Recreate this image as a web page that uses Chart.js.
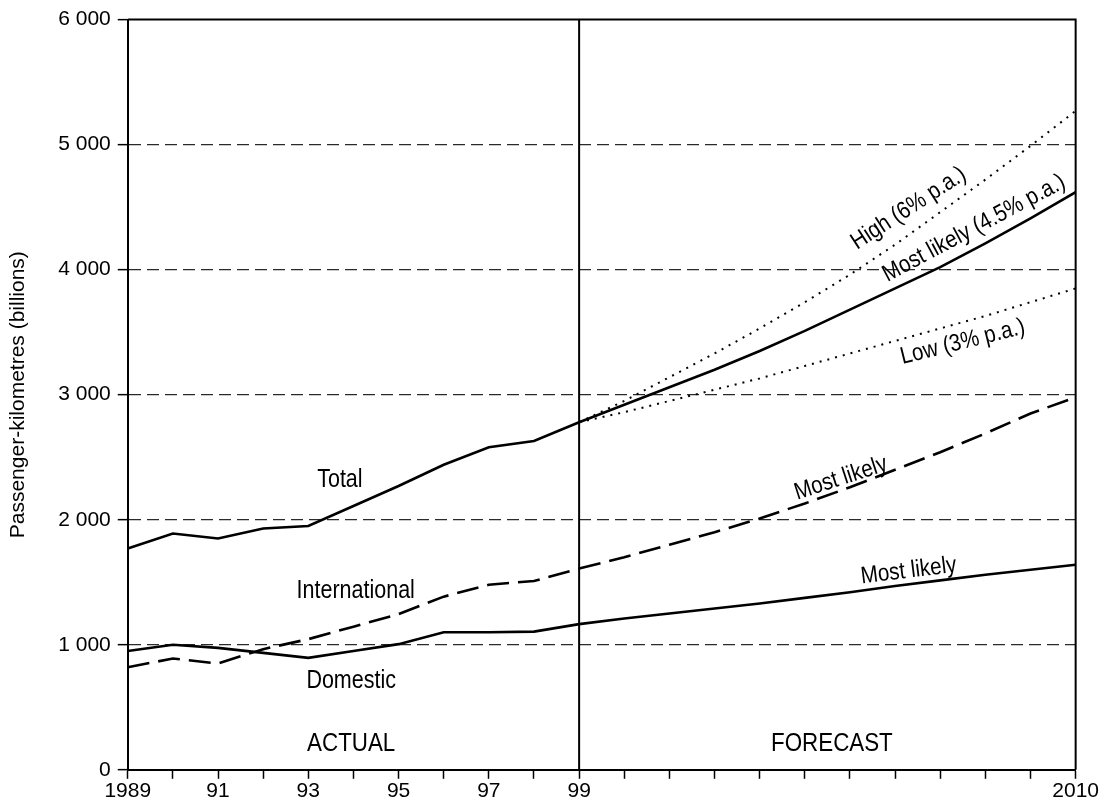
<!DOCTYPE html>
<html>
<head>
<meta charset="utf-8">
<title>Passenger-kilometres: actual and forecast</title>
<script src="https://cdn.jsdelivr.net/npm/chart.js@4.4.0/dist/chart.umd.min.js"></script>
<style>
    body { margin: 0; background: #fff; }
</style>
</head>
<body>
<canvas id="myChart" width="1099" height="809"></canvas>

<script>
// years
const ACTUAL_YEARS   = [1989, 1990, 1991, 1992, 1993, 1994, 1995, 1996, 1997, 1998, 1999];
const FORECAST_YEARS = [1999, 2000, 2001, 2002, 2003, 2004, 2005, 2006, 2007, 2008, 2009, 2010];

// actual, billions of passenger-km
const TOTAL_ACTUAL    = [1770, 1890, 1850, 1930, 1950, 2110, 2270, 2440, 2580, 2630, 2780];
const INTL_ACTUAL     = [820, 890, 850, 965, 1045, 1145, 1245, 1385, 1480, 1510, 1610];
const DOMESTIC_ACTUAL = [950, 1000, 975, 935, 895, 950, 1005, 1100, 1100, 1105, 1165];

// forecast scenarios
const TOTAL_HIGH      = [2780, 2950, 3140, 3330, 3530, 3740, 3960, 4200, 4460, 4720, 4990, 5270];
const TOTAL_LIKELY    = [2780, 2920, 3060, 3200, 3350, 3510, 3680, 3850, 4020, 4210, 4410, 4620];
const TOTAL_LOW       = [2780, 2860, 2950, 3040, 3130, 3230, 3330, 3430, 3530, 3630, 3740, 3850];
const INTL_LIKELY     = [1610, 1700, 1800, 1900, 2010, 2130, 2260, 2400, 2540, 2690, 2850, 2980];
const DOMESTIC_LIKELY = [1165, 1210, 1250, 1290, 1330, 1375, 1420, 1470, 1515, 1560, 1600, 1640];

const LABELED_YEARS = [1989, 1991, 1993, 1995, 1997, 1999, 2010];
const SPLIT_YEAR = 1999;

// text written on the plot: [text, year, value, angle, size]
const NOTES = [
    ['Total', 1993.7, 2320, 0, 25],
    ['International', 1994.05, 1430, 0, 25],
    ['Domestic', 1993.95, 710, 0, 25],
    ['ACTUAL', 1993.95, 210, 0, 26],
    ['FORECAST', 2004.6, 210, 0, 26],
    ['High (6% p.a.)', 2006.3, 4490, -33, 24],
    ['Most likely (4.5% p.a.)', 2007.75, 4330, -28, 24],
    ['Low (3% p.a.)', 2007.5, 3420, -14, 24],
    ['Most likely', 2004.8, 2330, -18, 24],
    ['Most likely', 2006.3, 1590, -7, 24]
];

const FONT = '"Liberation Sans", Arial, sans-serif';

pairs = function(xs, ys){
    return xs.map((x, i) => ({x: x, y: ys[i]}));
}

line = function(xs, ys, dash, width){
    return {
        data: pairs(xs, ys),
        borderColor: '#000',
        borderWidth: width || 2.6,
        borderDash: dash || [],
        pointRadius: 0,
        fill: false,
        tension: 0
    };
}

const overlay = {
    id: 'overlay',
    afterDatasetsDraw(chart){
        const ctx = chart.ctx;
        const a = chart.chartArea;
        const xs = chart.scales.x, ys = chart.scales.y;
        ctx.save();
        ctx.strokeStyle = '#000';
        ctx.lineWidth = 2;
        ctx.beginPath();
        ctx.moveTo(a.left, a.top);
        ctx.lineTo(a.right, a.top);
        ctx.lineTo(a.right, a.bottom);
        let sx = xs.getPixelForValue(SPLIT_YEAR);
        ctx.moveTo(sx, a.top);
        ctx.lineTo(sx, a.bottom);
        ctx.stroke();

        // labels on the plot, squeezed a little to look like the narrow original type
        ctx.fillStyle = '#000';
        ctx.textAlign = 'center';
        ctx.textBaseline = 'middle';
        for (const n of NOTES){
            ctx.save();
            ctx.font = n[4] + 'px ' + FONT;
            ctx.translate(xs.getPixelForValue(n[1]), ys.getPixelForValue(n[2]));
            ctx.rotate(n[3] * Math.PI / 180);
            ctx.scale(0.86, 1);
            ctx.fillText(n[0], 0, 0);
            ctx.restore();
        }
        ctx.restore();
    }
};

new Chart('myChart', {
    type: 'line',
    data: {
        datasets: [
            line(ACTUAL_YEARS, TOTAL_ACTUAL),
            line(ACTUAL_YEARS, INTL_ACTUAL, [22, 9]),
            line(ACTUAL_YEARS, DOMESTIC_ACTUAL),
            line(FORECAST_YEARS, TOTAL_HIGH, [2, 6], 2),
            line(FORECAST_YEARS, TOTAL_LIKELY),
            line(FORECAST_YEARS, TOTAL_LOW, [2, 6], 2),
            line(FORECAST_YEARS, INTL_LIKELY, [22, 9]),
            line(FORECAST_YEARS, DOMESTIC_LIKELY)
        ]
    },
    options: {
        responsive: false,
        animation: false,
        devicePixelRatio: 1,
        layout: { padding: { left: 6, right: -3, top: 2, bottom: 5 } },
        plugins: {
            legend: { display: false },
            tooltip: { enabled: false }
        },
        scales: {
            x: {
                type: 'linear',
                min: 1989,
                max: 2010,
                ticks: {
                    stepSize: 1,
                    autoSkip: false,
                    maxRotation: 0,
                    color: '#000',
                    font: { family: FONT, size: 21 },
                    padding: 0,
                    callback: v => {
                        if (!LABELED_YEARS.includes(v)) return '';
                        if (v === 1989 || v === 2010) return String(v);
                        return String(v).slice(2);
                    }
                },
                grid: {
                    drawOnChartArea: false,
                    drawTicks: true,
                    tickLength: 9,
                    tickColor: '#000',
                    tickWidth: 1.5
                },
                border: { color: '#000', width: 2 }
            },
            y: {
                min: 0,
                max: 6000,
                ticks: {
                    stepSize: 1000,
                    color: '#000',
                    padding: 7,
                    font: { family: FONT, size: 21 },
                    callback: v => v === 0 ? '0' : (v / 1000) + ' 000'
                },
                grid: {
                    color: c => (c.tick && (c.tick.value === 0 || c.tick.value === 6000)) ? 'rgba(0,0,0,0)' : '#2a2a2a',
                    lineWidth: 1.3,
                    tickLength: 10,
                    tickColor: '#000',
                    tickWidth: 1.5,
                    tickBorderDash: []
                },
                border: { color: '#000', width: 2, dash: [12, 6] },
                title: {
                    display: true,
                    text: 'Passenger-kilometres (billions)',
                    color: '#000',
                    font: { family: FONT, size: 21 },
                    padding: { top: 0, bottom: 20 }
                }
            }
        }
    },
    plugins: [overlay]
});
</script>
</body>
</html>
